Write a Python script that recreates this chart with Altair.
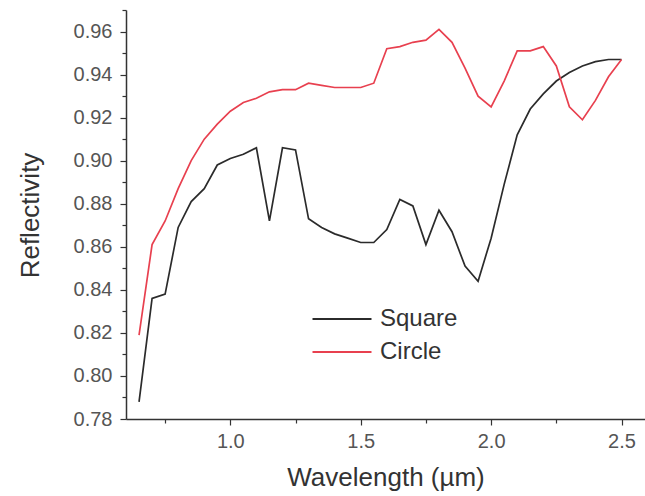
import altair as alt
import pandas as pd

# Wavelength grid (µm)
wavelength = [0.65, 0.70, 0.75, 0.80, 0.85, 0.90, 0.95, 1.00, 1.05, 1.10,
              1.15, 1.20, 1.25, 1.30, 1.35, 1.40, 1.45, 1.50, 1.55, 1.60,
              1.65, 1.70, 1.75, 1.80, 1.85, 1.90, 1.95, 2.00, 2.05, 2.10,
              2.15, 2.20, 2.25, 2.30, 2.35, 2.40, 2.45, 2.50]

square = [0.788, 0.836, 0.838, 0.869, 0.881, 0.887, 0.898, 0.901, 0.903, 0.906,
          0.872, 0.906, 0.905, 0.873, 0.869, 0.866, 0.864, 0.862, 0.862, 0.868,
          0.882, 0.879, 0.861, 0.877, 0.867, 0.851, 0.844, 0.864, 0.889, 0.912,
          0.924, 0.931, 0.937, 0.941, 0.944, 0.946, 0.947, 0.947]

circle = [0.819, 0.861, 0.872, 0.887, 0.900, 0.910, 0.917, 0.923, 0.927, 0.929,
          0.932, 0.933, 0.933, 0.936, 0.935, 0.934, 0.934, 0.934, 0.936, 0.952,
          0.953, 0.955, 0.956, 0.961, 0.955, 0.943, 0.930, 0.925, 0.937, 0.951,
          0.951, 0.953, 0.944, 0.925, 0.919, 0.928, 0.939, 0.947]

series_names = ["Square", "Circle"]
series_colors = ["#2b2b2b", "#e8404f"]

x_ticks = [0.75, 1.0, 1.25, 1.5, 1.75, 2.0, 2.25, 2.5]
y_ticks = [0.78, 0.79, 0.80, 0.81, 0.82, 0.83, 0.84, 0.85, 0.86, 0.87, 0.88,
           0.89, 0.90, 0.91, 0.92, 0.93, 0.94, 0.95, 0.96, 0.97]

rows = []
for name, vals in zip(series_names, [square, circle]):
    for w, v in zip(wavelength, vals):
        rows.append({"wavelength": w, "reflectivity": v, "sample": name})
df = pd.DataFrame(rows)

FONT = "Liberation Sans"
x_major = "abs(datum.value*2 - round(datum.value*2)) < 0.000001"
y_major = "abs(datum.value*50 - round(datum.value*50)) < 0.000001"

chart = alt.Chart(df).mark_line(strokeWidth=1.7).encode(
    x=alt.X(
        "wavelength:Q",
        scale=alt.Scale(domain=[0.6, 2.59], nice=False, zero=False),
        axis=alt.Axis(
            values=x_ticks,
            labelExpr=f"{x_major} ? format(datum.value, '.1f') : ''",
            title="Wavelength (µm)",
            grid=False,
            tickSize={"condition": {"test": x_major, "value": 6}, "value": 4},
            labelPadding=6,
            titleY=66,
            titleBaseline="alphabetic",
        ),
    ),
    y=alt.Y(
        "reflectivity:Q",
        scale=alt.Scale(domain=[0.78, 0.97], nice=False, zero=False),
        axis=alt.Axis(
            values=y_ticks,
            labelExpr=f"{y_major} ? format(datum.value, '.2f') : ''",
            title="Reflectivity",
            grid=False,
            tickSize={"condition": {"test": y_major, "value": 6}, "value": 4},
            labelPadding=8,
            titleX=-96,
            titleY=205,
            titleBaseline="middle",
        ),
    ),
    color=alt.Color(
        "sample:N",
        sort=series_names,
        scale=alt.Scale(domain=series_names, range=series_colors),
        legend=alt.Legend(
            title=None,
            orient="none",
            legendX=200,
            legendY=293,
            symbolType="M-2,0H2",
            symbolSize=870,
            symbolStrokeWidth=2,
            symbolFillColor="transparent",
            labelFontSize=24,
            labelFont=FONT,
            labelColor="#333333",
            labelOffset=22,
            rowPadding=5,
            padding=0,
        ),
    ),
).properties(
    width=519,
    height=409,
    autosize=alt.AutoSizeParams(type="none"),
    padding={"left": 126, "top": 10, "right": 0, "bottom": 77},
).configure_view(
    stroke=None
).configure_axis(
    domainColor="#333333",
    domainWidth=1.5,
    tickColor="#333333",
    tickWidth=1.2,
    labelFont=FONT,
    labelFontSize=20,
    labelColor="#555555",
    titleFont=FONT,
    titleFontSize=26,
    titleFontWeight="normal",
    titleColor="#333333",
)

chart.save("out.html", embed_options={"renderer": "svg", "actions": False})
